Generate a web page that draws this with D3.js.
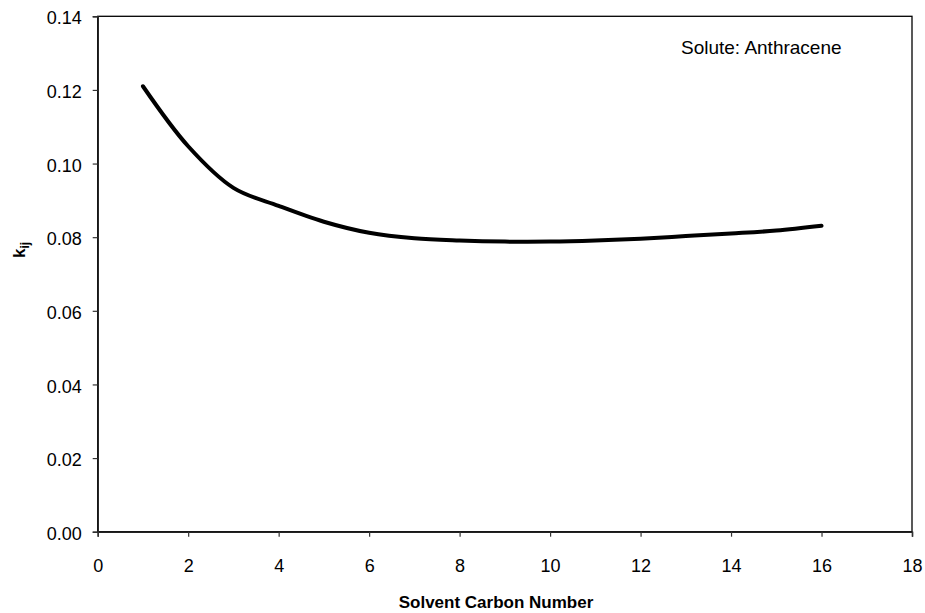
<!DOCTYPE html>
<html><head><meta charset="utf-8">
<script src="https://cdn.jsdelivr.net/npm/d3@7"></script>
<style>body{margin:0;background:#fff;} text{font-family:"Liberation Sans",Arial,sans-serif;}</style>
</head><body>
<svg id="c" width="925" height="613"></svg>
<script>
const carbonNumber = [1,2,3,4,5,6,7,8,9,10,11,12,13,14,15,16];
const kij = [0.1210,0.1047,0.0934,0.0885,0.0842,0.0812,0.0797,0.0791,0.0788,0.0788,0.0791,0.0796,0.0803,0.0810,0.0818,0.0831];
const xTicks = [0,2,4,6,8,10,12,14,16,18];
const yTicks = [0,0.02,0.04,0.06,0.08,0.10,0.12,0.14];

const svg = d3.select("#c");
const L=97.7,R=912,T=16.3,B=531.7;
const x = d3.scaleLinear().domain([0,18]).range([L,R]);
const y = d3.scaleLinear().domain([0,0.14]).range([B,T]);

svg.append("rect").attr("x",L).attr("y",T).attr("width",R-L).attr("height",B-T)
  .attr("fill","none").attr("stroke","#000").attr("stroke-width",1.3);

const yAxis = svg.append("g").attr("transform",`translate(${L},0)`)
  .call(d3.axisLeft(y).tickValues(yTicks).tickFormat(d3.format(".2f")).tickSize(5).tickPadding(11));
const xAxis = svg.append("g").attr("transform",`translate(0,${B})`)
  .call(d3.axisBottom(x).tickValues(xTicks).tickFormat(d3.format("d")).tickSize(5).tickPadding(23));
[yAxis,xAxis].forEach(a=>{
  a.attr("font-size",18).attr("font-family","Liberation Sans, Arial, sans-serif");
  a.select(".domain").attr("stroke","#222").attr("stroke-width",1.5);
  a.selectAll(".tick line").attr("stroke","#333").attr("stroke-width",1.2);
  a.selectAll("text").attr("fill","#000");
});
yAxis.selectAll("text").attr("dy","0.42em");

const line = d3.line().x((d,i)=>x(carbonNumber[i])).y(d=>y(d)).curve(d3.curveCatmullRom.alpha(0.5));
svg.append("path").datum(kij).attr("d",line).attr("fill","none")
  .attr("stroke","#000").attr("stroke-width",4).attr("stroke-linecap","round");

svg.append("text").attr("x",681).attr("y",54).attr("font-size",19).text("Solute: Anthracene");

svg.append("text").attr("x",496).attr("y",608).attr("text-anchor","middle")
  .attr("font-size",17).attr("font-weight","bold").text("Solvent Carbon Number");

const yl = svg.append("text").attr("transform","translate(25,250) rotate(-90)")
  .attr("text-anchor","middle").attr("font-size",17).attr("font-weight","bold");
yl.append("tspan").text("k");
yl.append("tspan").attr("font-size",12).attr("dy",4).text("ij");
</script>
</body></html>
